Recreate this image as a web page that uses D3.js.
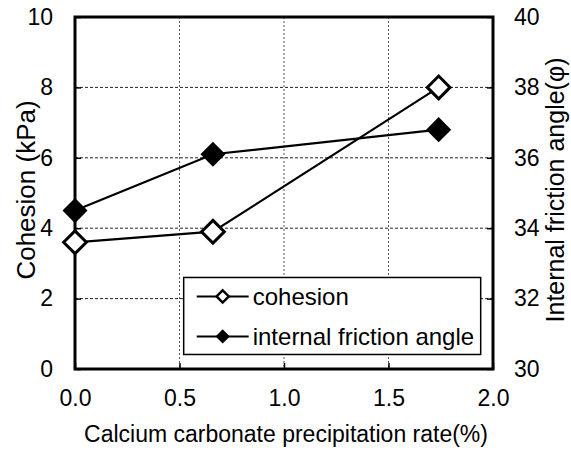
<!DOCTYPE html>
<html>
<head>
<meta charset="utf-8">
<script src="https://cdn.jsdelivr.net/npm/d3@7"></script>
<style>
  body { margin: 0; background: #fff; }
  svg text { font-family: "Liberation Sans", Arial, sans-serif; fill: #000; }
</style>
</head>
<body>
<svg id="chart" width="571" height="450"></svg>
<script>
// data
const rate = [0, 0.66, 1.74];
const cohesion = [3.6, 3.9, 8.0];
const friction = [34.5, 36.1, 36.8];
const xTicks = [0, 0.5, 1.0, 1.5, 2.0];
const yLeftTicks = [0, 2, 4, 6, 8, 10];
const yRightTicks = [30, 32, 34, 36, 38, 40];
const seriesNames = ["cohesion", "internal friction angle"];

const margin = { top: 17, right: 78, bottom: 81, left: 75 },
  width = 571 - margin.left - margin.right,
  height = 450 - margin.top - margin.bottom;

const svg = d3.select("#chart");
const g = svg.append("g")
  .attr("transform", `translate(${margin.left},${margin.top})`);

const x = d3.scaleLinear().domain([0, 2]).range([0, width]);
const yL = d3.scaleLinear().domain([0, 10]).range([height, 0]);
const yR = d3.scaleLinear().domain([30, 40]).range([height, 0]);

// grid
g.append("g").selectAll("line")
  .data(xTicks.slice(1, -1))
  .join("line")
  .attr("x1", d => x(d)).attr("x2", d => x(d))
  .attr("y1", 0).attr("y2", height)
  .attr("stroke", "#555").attr("stroke-width", 1)
  .attr("stroke-dasharray", "2,2");
g.append("g").selectAll("line")
  .data(yLeftTicks.slice(1, -1))
  .join("line")
  .attr("x1", 0).attr("x2", width)
  .attr("y1", d => yL(d)).attr("y2", d => yL(d))
  .attr("stroke", "#222").attr("stroke-width", 1)
  .attr("stroke-dasharray", "3,2");

// axes (ticks inward)
const fmt1 = d3.format(".1f");
const xAxis = g.append("g").attr("transform", `translate(0,${height})`)
  .call(d3.axisBottom(x).tickValues(xTicks).tickFormat(fmt1).tickSizeInner(-6).tickSizeOuter(0).tickPadding(21));
const yAxisL = g.append("g")
  .call(d3.axisLeft(yL).tickValues(yLeftTicks).tickSizeInner(-6).tickSizeOuter(0).tickPadding(22));
const yAxisR = g.append("g").attr("transform", `translate(${width},0)`)
  .call(d3.axisRight(yR).tickValues(yRightTicks).tickSizeInner(-6).tickSizeOuter(0).tickPadding(21));

[xAxis, yAxisL, yAxisR].forEach(a => {
  a.select(".domain").remove();
  a.selectAll(".tick line").attr("stroke", "#000").attr("stroke-width", 1.5);
  a.selectAll(".tick text").style("font-size", "23px").attr("fill", "#000");
});

// frame
g.append("rect")
  .attr("width", width).attr("height", height)
  .attr("fill", "none").attr("stroke", "#000").attr("stroke-width", 3);

// series
const diamond = d3.symbol().type(d3.symbolDiamond2);
const ptsC = rate.map((r, i) => [x(r), yL(cohesion[i])]);
const ptsF = rate.map((r, i) => [x(r), yR(friction[i])]);
const line = d3.line();

g.append("path").attr("d", line(ptsF))
  .attr("fill", "none").attr("stroke", "#000").attr("stroke-width", 2.2);
g.append("path").attr("d", line(ptsC))
  .attr("fill", "none").attr("stroke", "#000").attr("stroke-width", 2.2);

g.append("g").selectAll("path")
  .data(ptsF).join("path")
  .attr("transform", d => `translate(${d[0]},${d[1]})`)
  .attr("d", diamond.size(400))
  .attr("fill", "#000");
g.append("g").selectAll("path")
  .data(ptsC).join("path")
  .attr("transform", d => `translate(${d[0]},${d[1]})`)
  .attr("d", diamond.size(330))
  .attr("fill", "#fff").attr("stroke", "#000").attr("stroke-width", 3);

// legend
const leg = g.append("g").attr("transform", `translate(${x(0.52)},${yL(2.6)})`);
leg.append("rect")
  .attr("width", 297).attr("height", 77)
  .attr("fill", "#fff").attr("stroke", "#000").attr("stroke-width", 1.5);
seriesNames.forEach((name, i) => {
  const cy = 19 + i * 40;
  leg.append("line").attr("x1", 13).attr("x2", 65).attr("y1", cy).attr("y2", cy)
    .attr("stroke", "#000").attr("stroke-width", 2);
  const m = leg.append("path")
    .attr("transform", `translate(39,${cy})`)
    .attr("d", diamond.size(i === 0 ? 95 : 130));
  if (i === 0) m.attr("fill", "#fff").attr("stroke", "#000").attr("stroke-width", 2.5);
  else m.attr("fill", "#000");
  leg.append("text").attr("x", 69).attr("y", cy).attr("dy", "0.35em")
    .style("font-size", "24px").text(name);
});

// axis titles
g.append("text")
  .attr("x", width / 2 + 2).attr("y", height + 73)
  .attr("text-anchor", "middle").style("font-size", "23px")
  .text("Calcium carbonate precipitation rate(%)");
g.append("text")
  .attr("transform", `translate(${35 - margin.left},${190 - margin.top}) rotate(-90)`)
  .attr("text-anchor", "middle").style("font-size", "26px")
  .text("Cohesion (kPa)");
g.append("text")
  .attr("transform", `translate(${564 - margin.left},${190 - margin.top}) rotate(-90)`)
  .attr("text-anchor", "middle").style("font-size", "25px")
  .text("Internal friction angle(φ)");
</script>
</body>
</html>
